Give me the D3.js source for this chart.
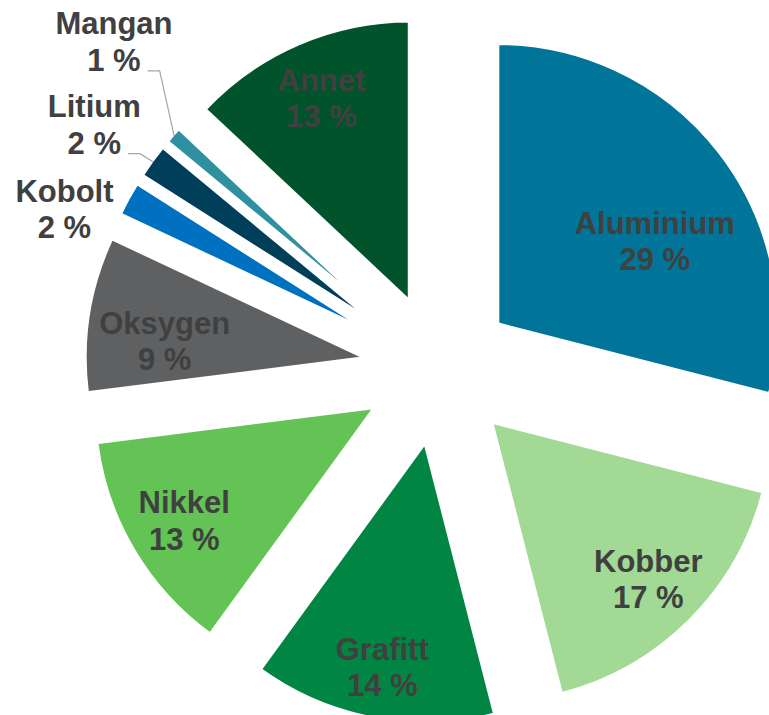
<!DOCTYPE html>
<html>
<head>
<meta charset="utf-8">
<script src="https://cdn.jsdelivr.net/npm/d3@7"></script>
<style>
  body { margin: 0; background: #ffffff; }
  #graph-container { width: 769px; height: 715px; overflow: hidden; }
</style>
</head>
<body>
<div id="graph-container"></div>
<script>
// Data
var categories = ["Aluminium", "Kobber", "Grafitt", "Nikkel", "Oksygen", "Kobolt", "Litium", "Mangan", "Annet"];
var values = [29, 17, 14, 13, 9, 2, 2, 1, 13];
var colors = ["#007599", "#a1d995", "#008542", "#63c354", "#5f6062", "#0070c0", "#003f5a", "#2f90a0", "#00532a"];

// Which labels sit outside the pie, and which of those get a leader line
var outsideLabels = ["Kobolt", "Litium", "Mangan"];
var leaderLabels = ["Litium", "Mangan"];

// Label placement: [angle nudge in degrees, distance from slice tip]
var labelPlacement = {
  Aluminium: [9.9, 178],
  Oksygen: [-4.1, 202],
  Grafitt: [0, 229],
  Kobolt: [-6.8, 334],
  Litium: [-0.7, 349],
  Mangan: [4.6, 388]
};
var defaultPlacement = [0, 222];

// Dimensions
var svgWidth = 769;
var svgHeight = 715;
var cx = 439;
var cy = 369.5;
var radius = 281;
var explode = 74;
var fontSize = 31;
var lineHeight = 36.5;

var container = d3.select("#graph-container");

var svg = container
  .append("svg")
  .attr("width", svgWidth)
  .attr("height", svgHeight);

var chart = svg.append("g")
  .attr("transform", "translate(" + cx + "," + cy + ")");

var dataset = categories.map(function (c, i) {
  return { name: c, value: values[i], color: colors[i] };
});

var pie = d3.pie()
  .sort(null)
  .value(function (d) { return d.value; });

var arc = d3.arc()
  .innerRadius(0)
  .outerRadius(radius);

var arcs = pie(dataset);

// direction of a given angle (0 = 12 o'clock, clockwise)
function dir(a) {
  return [Math.sin(a), -Math.cos(a)];
}
function midAngle(d) {
  return (d.startAngle + d.endAngle) / 2;
}
function tip(d) {
  var v = dir(midAngle(d));
  return [v[0] * explode, v[1] * explode];
}

// Slices, each pushed out along its middle angle
chart.selectAll("path.slice")
  .data(arcs)
  .enter()
  .append("path")
  .attr("class", "slice")
  .attr("transform", function (d) {
    var t = tip(d);
    return "translate(" + t[0] + "," + t[1] + ")";
  })
  .attr("d", arc)
  .attr("fill", function (d) { return d.data.color; })
  .attr("stroke", "#ffffff")
  .attr("stroke-width", 3.7);

// Labels
var labels = chart.selectAll("g.label")
  .data(arcs)
  .enter()
  .append("g")
  .attr("class", "label");

labels.each(function (d) {
  var g = d3.select(this);
  var p = labelPlacement[d.data.name] || defaultPlacement;
  var t = tip(d);
  var v = dir(midAngle(d) + p[0] * Math.PI / 180);
  var lx = t[0] + v[0] * p[1];
  var ly = t[1] + v[1] * p[1];
  var base1 = ly - lineHeight / 2 + fontSize * 0.358;

  var text = g.append("text")
    .attr("text-anchor", "middle")
    .style("font-family", "Arial, 'Liberation Sans', sans-serif")
    .style("font-weight", "bold")
    .style("font-size", fontSize + "px")
    .attr("fill", "#404040");

  text.append("tspan")
    .attr("x", lx)
    .attr("y", base1)
    .text(d.data.name);

  var second = text.append("tspan")
    .attr("x", lx)
    .attr("y", base1 + lineHeight)
    .text(d.data.value + " %");

  // Leader lines for the small slices
  if (leaderLabels.indexOf(d.data.name) >= 0) {
    var w = second.node().getComputedTextLength();
    var sx = lx + w / 2 + 7;
    var sy = base1 + lineHeight;
    var o = dir(midAngle(d));
    var ex = t[0] + o[0] * (radius - 2);
    var ey = t[1] + o[1] * (radius - 2);
    g.append("path")
      .attr("d", "M" + sx + "," + sy + "L" + (sx + 12) + "," + sy + "L" + ex + "," + ey)
      .attr("fill", "none")
      .attr("stroke", "#a6a6a6")
      .attr("stroke-width", 1.2);
  }
});
</script>
</body>
</html>
